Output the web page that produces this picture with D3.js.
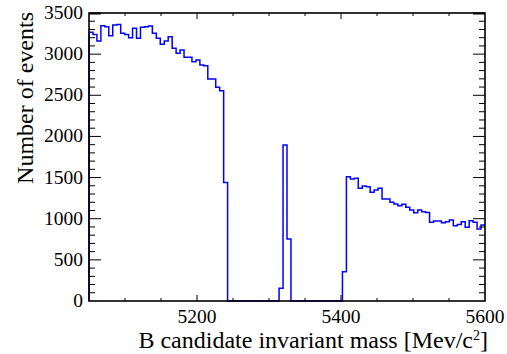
<!DOCTYPE html>
<html>
<head>
<meta charset="utf-8">
<script src="https://cdn.jsdelivr.net/npm/d3@7"></script>
<style>
  body { margin: 0; background: #fff; }
</style>
</head>
<body>
<script>
// histogram: 100 bins of 5.5 MeV starting at 5050
var binLow = 5050;
var binWidth = 5.5;
var counts = [
  3265, 3240, 3160, 3346, 3334, 3224, 3354, 3360, 3253, 3240,
  3200, 3314, 3192, 3326, 3334, 3342, 3253, 3192, 3119, 3160,
  3212, 3071, 3010, 3050, 2961, 2961, 2908, 2929, 2868, 2860,
  2698, 2698, 2597, 2556, 1440, 0, 0, 0, 0, 0,
  0, 0, 0, 0, 0, 0, 0, 0, 154, 1896,
  753, 0, 0, 0, 0, 0, 0, 0, 0, 0,
  0, 0, 0, 0, 356, 1511, 1483, 1491, 1370, 1397,
  1389, 1321, 1349, 1370, 1240, 1240, 1199, 1179, 1158, 1175,
  1138, 1106, 1073, 1106, 1085, 1077, 956, 972, 972, 951,
  964, 984, 915, 931, 964, 895, 976, 956, 875, 924
];
var xTicks = [5200, 5400, 5600];
var yTicks = [0, 500, 1000, 1500, 2000, 2500, 3000, 3500];

var width = 507, height = 354;
var margin = { top: 13, right: 22, bottom: 53, left: 89 };
var serif = "'Liberation Serif', 'Times New Roman', Times, serif";

var svg = d3.select("body")
    .append("svg")
    .attr("width", width)
    .attr("height", height)
    .style("font-family", serif);

var x = d3.scaleLinear()
    .domain([5050, 5600])
    .range([margin.left, width - margin.right]);

var y = d3.scaleLinear()
    .domain([0, 3500])
    .range([height - margin.bottom, margin.top]);

// step outline
var pts = [[binLow, 0]];
counts.forEach(function(c, i) {
    pts.push([binLow + i * binWidth, c]);
    pts.push([binLow + (i + 1) * binWidth, c]);
});

var line = d3.line()
    .x(function(d) { return x(d[0]); })
    .y(function(d) { return y(d[1]); });

svg.append("path")
    .attr("d", line(pts))
    .attr("fill", "none")
    .attr("stroke", "#0000ff")
    .attr("stroke-width", 1.5);

// ticks on all four sides, drawn inward
var x0 = x.range()[0], x1 = x.range()[1];
var y0 = y.range()[0], y1 = y.range()[1];
var ticks = svg.append("g").attr("stroke", "#000").attr("stroke-width", 1);

d3.range(5100, 5600, 50).forEach(function(v) {
    var len = (v % 200 === 0) ? 6 : 3;
    ticks.append("line").attr("x1", x(v)).attr("x2", x(v)).attr("y1", y0).attr("y2", y0 - len);
    ticks.append("line").attr("x1", x(v)).attr("x2", x(v)).attr("y1", y1).attr("y2", y1 + len);
});

d3.range(100, 3500, 100).forEach(function(v) {
    var len = (v % 500 === 0) ? 12 : 6;
    ticks.append("line").attr("x1", x0).attr("x2", x0 + len).attr("y1", y(v)).attr("y2", y(v));
    ticks.append("line").attr("x1", x1).attr("x2", x1 - len).attr("y1", y(v)).attr("y2", y(v));
});
// top major ticks at 3500
ticks.append("line").attr("x1", x0).attr("x2", x0 + 12).attr("y1", y(3500) + 0.5).attr("y2", y(3500) + 0.5).attr("stroke-width", 2);
ticks.append("line").attr("x1", x1).attr("x2", x1 - 12).attr("y1", y(3500) + 0.5).attr("y2", y(3500) + 0.5).attr("stroke-width", 2);

// frame
svg.append("rect")
    .attr("x", x0)
    .attr("y", y1)
    .attr("width", x1 - x0)
    .attr("height", y0 - y1)
    .attr("fill", "none")
    .attr("stroke", "#000")
    .attr("stroke-width", 1.6);

// tick labels
svg.selectAll(".xl")
    .data(xTicks)
    .enter().append("text")
    .attr("x", function(d) { return x(d); })
    .attr("y", 323)
    .attr("text-anchor", "middle")
    .style("font-family", serif)
    .style("font-size", "19.5px")
    .text(function(d) { return d; });

svg.selectAll(".yl")
    .data(yTicks)
    .enter().append("text")
    .attr("x", 83)
    .attr("y", function(d) { return y(d) + 6; })
    .attr("text-anchor", "end")
    .style("font-family", serif)
    .style("font-size", "19.5px")
    .text(function(d) { return d; });

// axis titles
var xt = svg.append("text")
    .attr("x", x1 + 3)
    .attr("y", 348)
    .attr("text-anchor", "end")
    .style("font-family", serif)
    .style("font-size", "24px");
xt.append("tspan").text("B candidate invariant mass [Mev/c");
xt.append("tspan").attr("dy", -8).style("font-size", "14px").text("2");
xt.append("tspan").attr("dy", 8).text("]");

svg.append("text")
    .attr("transform", "translate(33," + (y1 - 1) + ") rotate(-90)")
    .attr("text-anchor", "end")
    .style("font-family", serif)
    .style("font-size", "24px")
    .text("Number of events");
</script>
</body>
</html>
